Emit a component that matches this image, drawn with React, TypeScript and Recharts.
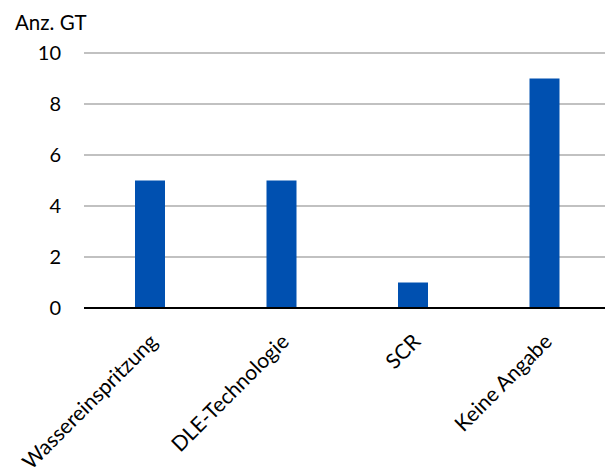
import React from 'react';
import { BarChart, Bar, XAxis, YAxis, CartesianGrid } from 'recharts';

const categories = ['Wassereinspritzung', 'DLE-Technologie', 'SCR', 'Keine Angabe'];
const counts = [5, 5, 1, 9];
const yTicks = [0, 2, 4, 6, 8, 10];

const data = categories.map((name, i) => ({ name, value: counts[i] }));

const FONT = 'Lato, "Open Sans", sans-serif';

const CategoryTick = (props: any) => {
  const { x, y, payload } = props;
  return (
    <text
      x={0}
      y={0}
      transform={`translate(${x + 9}, ${y + 27}) rotate(-45)`}
      textAnchor="end"
      fill="#000"
      fontSize={21}
      fontFamily={FONT}
    >
      {payload.value}
    </text>
  );
};

const App: React.FC = () => {
  return (
    <div
      style={{
        position: 'absolute',
        left: 0,
        top: 0,
        width: 605,
        height: 468,
        overflow: 'hidden',
        background: '#fff',
      }}
    >
      <div
        style={{
          position: 'absolute',
          left: 15,
          top: 9,
          fontFamily: FONT,
          fontSize: 20.5,
          lineHeight: '26px',
          color: '#000',
        }}
      >
        Anz. GT
      </div>
      <BarChart
        width={615}
        height={468}
        data={data}
        margin={{ top: 53, right: 5, left: 0, bottom: 0 }}
      >
        <CartesianGrid vertical={false} stroke="#ADADAD" strokeWidth={1.5} />
        <XAxis
          dataKey="name"
          height={160}
          axisLine={{ stroke: '#000', strokeWidth: 2 }}
          tickLine={false}
          interval={0}
          tick={<CategoryTick />}
        />
        <YAxis
          width={84}
          domain={[0, 10]}
          ticks={yTicks}
          axisLine={false}
          tickLine={false}
          tickMargin={17}
          tick={{ fill: '#000', fontSize: 20, fontFamily: FONT }}
        />
        <Bar dataKey="value" fill="#0050B0" barSize={30} isAnimationActive={false} />
      </BarChart>
    </div>
  );
};

export default App;
